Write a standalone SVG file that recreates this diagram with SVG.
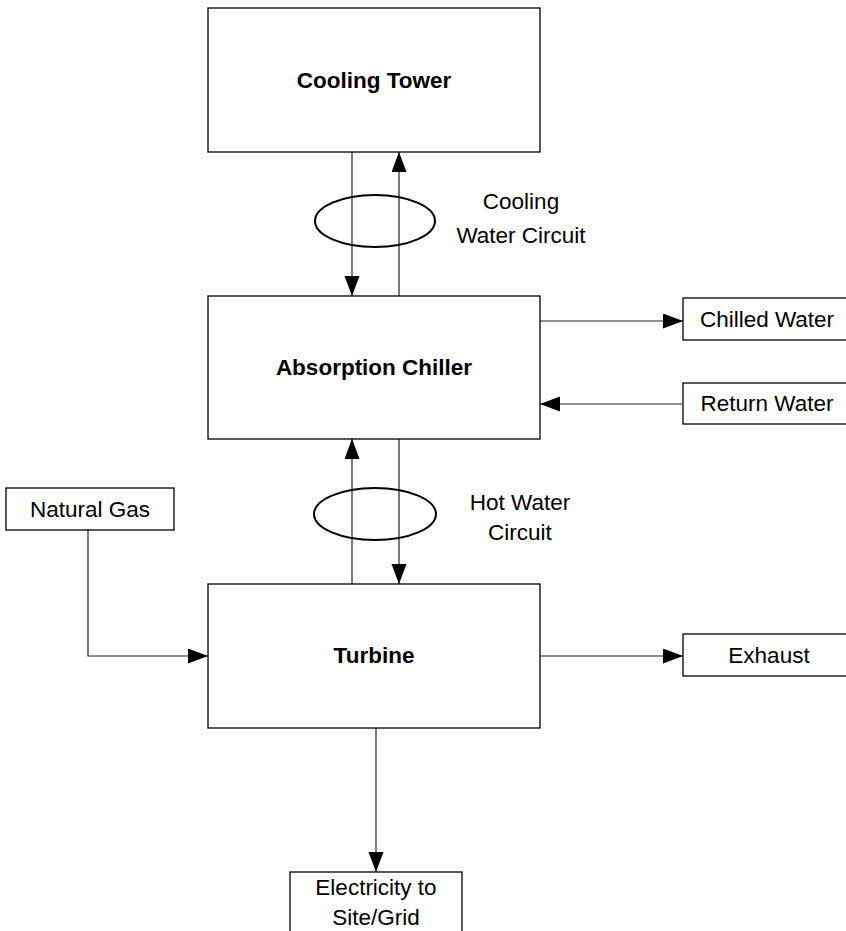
<svg xmlns="http://www.w3.org/2000/svg" width="846" height="931" viewBox="0 0 846 931">
<defs>
<style>
.box{fill:#fff;stroke:#000;stroke-width:1.3}
.ln{fill:none;stroke:#222;stroke-width:1.2}
.ell{fill:none;stroke:#000;stroke-width:2}
.t{font-family:"Liberation Sans",Arial,sans-serif;font-size:22.5px;fill:#000;text-anchor:middle}
.b{font-weight:bold}
</style>
<marker id="ah" markerUnits="userSpaceOnUse" markerWidth="20" markerHeight="16" refX="20" refY="7.5" orient="auto">
<path d="M0,0 L20,7.5 L0,15 Z" fill="#000"/>
</marker>
</defs>
<rect width="846" height="931" fill="#fff"/>
<g id="connectors">
<line class="ln" x1="352" y1="152" x2="352" y2="296" marker-end="url(#ah)"/>
<line class="ln" x1="399" y1="296" x2="399" y2="152" marker-end="url(#ah)"/>
<line class="ln" x1="352" y1="584" x2="352" y2="439" marker-end="url(#ah)"/>
<line class="ln" x1="399" y1="439" x2="399" y2="584" marker-end="url(#ah)"/>
<line class="ln" x1="540" y1="321" x2="683" y2="321" marker-end="url(#ah)"/>
<line class="ln" x1="683" y1="404" x2="540" y2="404" marker-end="url(#ah)"/>
<path class="ln" d="M88,530 L88,656 L208,656" marker-end="url(#ah)"/>
<line class="ln" x1="540" y1="656" x2="683" y2="656" marker-end="url(#ah)"/>
<line class="ln" x1="376" y1="728" x2="376" y2="872" marker-end="url(#ah)"/>
<ellipse class="ell" cx="375" cy="221" rx="60" ry="26"/>
<ellipse class="ell" cx="375" cy="514" rx="61" ry="26"/>
</g>
<g id="cooling-tower">
<rect class="box" x="208" y="8" width="332" height="144"/>
<text class="t b" x="374" y="88">Cooling Tower</text>
</g>
<g id="absorption-chiller">
<rect class="box" x="208" y="296" width="332" height="143"/>
<text class="t b" x="374" y="375">Absorption Chiller</text>
</g>
<g id="turbine">
<rect class="box" x="208" y="584" width="332" height="144"/>
<text class="t b" x="374" y="663">Turbine</text>
</g>
<g id="cooling-water-circuit">
<text class="t" x="521" y="209">Cooling</text>
<text class="t" x="521" y="243">Water Circuit</text>
</g>
<g id="hot-water-circuit">
<text class="t" x="520" y="510">Hot Water</text>
<text class="t" x="520" y="540">Circuit</text>
</g>
<g id="chilled-water">
<rect class="box" x="683" y="298" width="170" height="42"/>
<text class="t" x="767" y="327">Chilled Water</text>
</g>
<g id="return-water">
<rect class="box" x="683" y="383" width="170" height="41"/>
<text class="t" x="767" y="411">Return Water</text>
</g>
<g id="natural-gas">
<rect class="box" x="6" y="488" width="168" height="42"/>
<text class="t" x="90" y="517">Natural Gas</text>
</g>
<g id="exhaust">
<rect class="box" x="683" y="634" width="170" height="42"/>
<text class="t" x="769" y="663">Exhaust</text>
</g>
<g id="electricity">
<rect class="box" x="290" y="872" width="172" height="80"/>
<text class="t" x="376" y="895">Electricity to</text>
<text class="t" x="376" y="925">Site/Grid</text>
</g>
</svg>
